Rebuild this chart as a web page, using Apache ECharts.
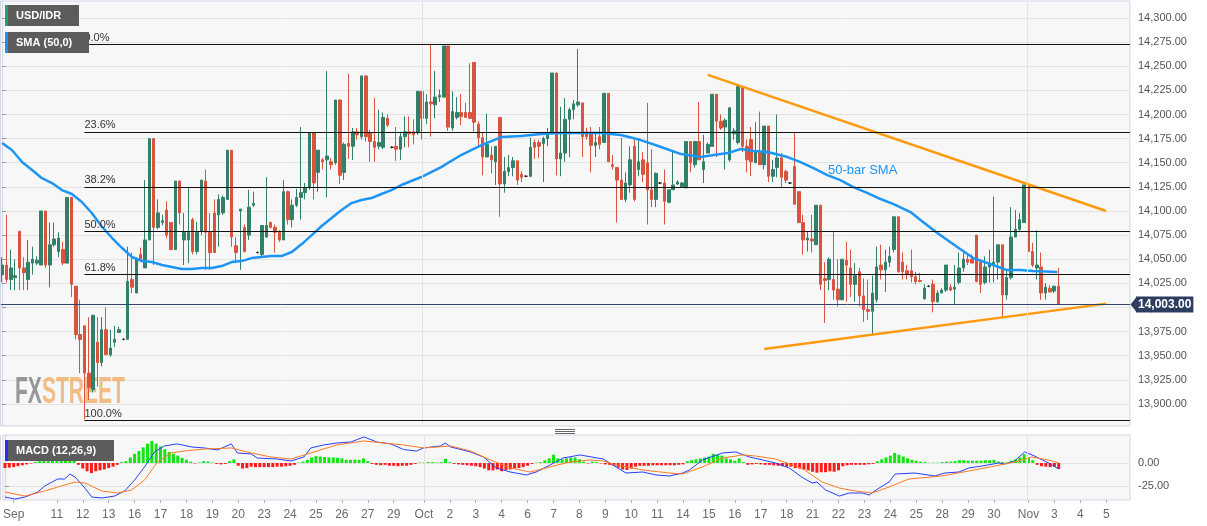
<!DOCTYPE html>
<html><head><meta charset="utf-8">
<script src="https://cdn.jsdelivr.net/npm/echarts@6/dist/echarts.min.js"></script>
<style>html,body{margin:0;padding:0;background:#fff;}#c{width:1207px;height:526px;}</style>
</head><body><div id="c"></div>
<script>
// ---- data (4H USD/IDR candles) ----
const openP = [14034,14044,14029,14031,14079,14041,14029,14046,14046,14044,
14100,14044,14065,14058,14060,14046,14114,14022,13972,13981,
13932,13915,13964,13943,13977,13951,13964,13974,13967,13967,
14029,14015,14055,14041,14070,14175,14083,14088,14101,14088,
14060,14131,14070,14070,14091,14058,14079,14131,14078,14098,
14096,14098,14112,14163,14064,14100,14083,14075,14106,14057,
14055,14073,14088,14083,14078,14070,14120,14091,14106,14114,
14119,14124,14181,14140,14153,14153,14151,14150,14215,14140,
14170,14167,14182,14177,14240,14181,14172,14167,14166,14196,
14166,14167,14164,14177,14182,14182,14181,14224,14196,14213,
14210,14218,14218,14271,14186,14197,14202,14202,14202,14254,
14190,14176,14156,14158,14151,14197,14128,14141,14145,14152,
14138,14136,14136,14171,14171,14170,14175,14181,14243,14154,
14160,14195,14205,14210,14212,14182,14181,14168,14177,14171,
14222,14148,14145,14132,14112,14127,14167,14143,14153,14150,
14122,14112,14129,14129,14109,14122,14128,14125,14124,14172,
14148,14172,14143,14160,14167,14221,14193,14187,14153,14180,
14171,14229,14167,14174,14150,14161,14148,14188,14136,14145,
14155,14141,14129,14146,14120,14088,14070,14071,14065,14106,
14030,14029,14029,14019,14008,14049,14041,14024,14037,14012,
13998,13996,14008,14044,14039,14047,14060,14094,14047,14038,
14038,14032,14028,14009,14022,14024,14006,14015,14018,14021,
14019,14026,14041,14050,14050,14075,14047,14026,14042,14044,
14047,14065,14013,14031,14073,14081,14088,14127,14058,14041,
14042,14015,14020,14017,14022];
const closeP = [14044,14029,14041,14033,14041,14036,14047,14050,14049,14100,
14044,14065,14071,14072,14046,14114,14024,13972,13967,13932,
13917,13992,13943,13977,13951,13958,13967,13977,13967,14027,
14021,14050,14050,14070,14175,14083,14098,14090,14075,14060,
14131,14098,14078,14078,14058,14078,14132,14078,14057,14057,
14112,14114,14163,14073,14057,14102,14058,14104,14108,14057,
14085,14085,14083,14078,14070,14120,14091,14106,14114,14119,
14124,14181,14129,14163,14151,14157,14148,14215,14137,14169,
14167,14182,14179,14240,14177,14172,14166,14171,14197,14189,
14166,14164,14177,14182,14180,14179,14224,14196,14213,14211,
14218,14220,14271,14187,14203,14202,14198,14197,14196,14192,
14176,14156,14169,14153,14167,14128,14141,14145,14152,14132,
14135,14136,14166,14166,14167,14175,14179,14243,14154,14160,
14195,14205,14211,14213,14177,14177,14168,14171,14169,14222,
14151,14146,14132,14112,14129,14153,14112,14151,14138,14122,
14112,14139,14129,14110,14122,14127,14130,14129,14172,14150,
14172,14153,14151,14169,14221,14193,14186,14194,14207,14183,
14229,14167,14153,14151,14161,14148,14188,14136,14143,14155,
14135,14132,14129,14107,14088,14070,14072,14069,14106,14024,
14028,14050,14018,14008,14050,14044,14024,14033,14012,13998,
13996,14015,14042,14039,14047,14053,14094,14037,14037,14034,
14032,14027,14027,14020,14022,14006,14015,14018,14044,14018,
14021,14041,14050,14047,14046,14027,14024,14042,14046,14047,
14065,14013,14031,14073,14081,14091,14127,14058,14044,14044,
14015,14021,14016,14022,14003];
const lowP = [14026,14026,14018,14018,14018,14018,14018,14034,14044,14044,
14041,14021,14063,14052,14044,14046,14011,13967,13932,13884,
13904,13912,13918,13939,13951,13949,13959,13974,13966,13967,
14015,14015,14047,14041,14070,14044,14081,14085,14072,14060,
14060,14086,14044,14046,14055,14055,14075,14039,14039,14057,
14063,14096,14112,14063,14046,14039,14057,14070,14104,14056,
14052,14072,14082,14057,14068,14070,14086,14083,14104,14091,
14112,14122,14112,14120,14143,14114,14143,14148,14128,14132,
14154,14153,14174,14174,14172,14151,14151,14164,14164,14187,
14165,14152,14153,14166,14166,14169,14179,14174,14190,14177,
14196,14213,14218,14183,14183,14195,14189,14197,14196,14182,
14167,14137,14156,14139,14127,14094,14119,14136,14136,14127,
14130,14135,14135,14154,14155,14130,14167,14181,14137,14136,
14151,14156,14195,14208,14156,14174,14140,14156,14164,14171,
14151,14143,14088,14112,14109,14119,14110,14136,14130,14086,
14104,14104,14128,14086,14108,14122,14127,14124,14124,14140,
14145,14153,14129,14160,14167,14156,14184,14143,14151,14174,
14169,14161,14140,14136,14150,14148,14143,14130,14130,14135,
14124,14129,14128,14107,14088,14055,14058,14057,14065,14018,
13984,14018,14008,14001,14008,14006,14011,14006,14001,13985,
13987,13972,14005,14029,14016,14042,14057,14036,14029,14029,
14026,14024,14026,14008,14021,13995,14005,14015,14016,14017,
14003,14024,14037,14044,14046,14026,14015,14024,14026,14026,
14029,13990,14008,14029,14073,14079,14088,14058,14042,14029,
14008,14008,14016,14015,14003];
const highP = [14052,14096,14060,14050,14079,14052,14070,14063,14053,14100,
14100,14088,14088,14078,14068,14114,14114,14022,14008,13981,
13990,13992,13990,13990,14000,13977,13981,13980,13968,14063,
14057,14052,14062,14132,14175,14175,14112,14096,14110,14088,
14131,14131,14098,14125,14093,14089,14132,14143,14098,14112,
14117,14116,14163,14163,14073,14102,14086,14122,14120,14058,
14085,14135,14089,14086,14080,14132,14121,14112,14123,14187,
14129,14181,14181,14163,14155,14245,14155,14215,14215,14171,
14242,14186,14186,14240,14240,14184,14217,14205,14202,14200,
14167,14187,14182,14198,14198,14195,14224,14224,14221,14272,
14245,14226,14271,14271,14224,14218,14221,14212,14253,14254,
14193,14181,14201,14167,14167,14197,14156,14158,14156,14152,
14141,14137,14176,14174,14174,14177,14186,14243,14243,14208,
14217,14207,14215,14268,14212,14186,14187,14182,14187,14222,
14222,14158,14145,14176,14140,14167,14174,14174,14161,14212,
14164,14140,14130,14143,14122,14163,14132,14130,14172,14172,
14172,14213,14179,14171,14221,14221,14200,14196,14207,14186,
14229,14229,14174,14187,14192,14203,14188,14188,14153,14200,
14160,14143,14130,14181,14120,14096,14079,14096,14106,14106,
14047,14052,14079,14050,14050,14068,14060,14046,14041,14030,
14029,14033,14063,14065,14060,14063,14094,14094,14057,14044,
14060,14037,14036,14024,14023,14029,14018,14020,14044,14024,
14044,14057,14057,14055,14055,14075,14050,14053,14060,14115,
14065,14065,14039,14104,14101,14098,14127,14127,14067,14080,
14057,14025,14023,14023,14041];

const macdHist = [-5.5,-5,-4.5,-3.5,-2.5,-1.5,-0.5,1,2,3,
5,6.5,7,7,7,7.5,6.5,-2,-6,-9,
-11,-9,-8,-7,-5.5,-4,-2,1,2,6,
10,13,17,21,24,21,18,15,12,10,
8,5.5,3.5,1.5,-0.5,0.5,2,1.5,0.5,-1,
-1.5,-1,2,4,-3,-6,-5.5,-4,-4.5,-4.5,
-4.5,-4.5,-4.5,-4,-4,-3.5,-3,-2,0.5,1.5,
3.5,6,7.5,7,6.5,6,6,5.5,5,3.5,
3.5,3.5,3.5,5,2,-1,-2,-2.5,-2,-3,
-3,-3.5,-3,-3,-2,-1,0.5,0.5,1,1,
0.5,1,4.5,1,-1,-1.5,-2,-2.5,-3,-3.5,
-4.5,-6,-8,-8,-7,-9,-7.5,-7,-6,-5.5,
-4.5,-3,-1,0.5,1,3,5,9,5,4,
5,6,6,4,1.5,-0.5,1.5,1,-0.5,-1.5,
-2,-3,-5,-7,-7.5,-6,-4,-3,-3,-3,
-2.5,-2.5,-2.5,-2.5,-2.5,-2.5,-2,-1.5,2,3,
4,5,6,7,10,9,8,5,4,2.5,
5,1,-2,-1.5,-1,-1.5,-2,-2,-2.5,-3,
-3.5,-4,-4,-5.5,-6,-7,-8,-9.5,-10.5,-10,
-10,-9,-9.5,-8,-3.5,-2.5,-2,-2,-2,-2,
-1.5,-1,2,4,6,8,11,9,7,5,
3.5,2.5,1.5,1,0.3,0.3,0.3,1,1.5,1.5,
2,3,3,2.5,2.5,2.5,2.5,3,3,3.5,
1.5,1,0.5,2.5,4,6,9.5,5.5,3,-2,
-3.5,-4,-4.5,-4,-6.5];

const macdBar = [0,2.3,4.6,7.6,9.2,12.2,13.8,15,16.2,18.5,20.1,22.4,25.4,27.7,30,32.3,34.6,36.9,39.9,43.2,46.2,49.2,52.4,53.8,57,58.4,63,66.2,69.2,70.8,73.8,76.8,80.1,83.1,86.1,89.3,92.3,95.3,96.9,100.8,102,103.2,107.8,110.8,113.8,117,120.7,123,126.2,129.2,133.2,138.5,141.5,143.8,147.7,150.7,153.9,156.9,158.5,161.5,166.2,169.2,172.4,175.4,178.4,181.6,184.6,186.9,188,190,193.2,195.5,198.5,200.1,202.4,204.7,206.1,210.7,215.3,217.6,220.9,223.2,226.2,230.1,231.5,233.8,236.1,238.4,241.6,244];
const macdLine = [-37,-39.1,-37,-31.5,-25,-17.4,-17.4,-12,-15.2,-27.2,-37,-38,-35.9,-30.4,-18.5,-4.3,12,18.5,20.7,17.4,16.3,14.1,20.7,10.9,9.8,5.4,4.3,2.2,6.5,16.3,19.6,21.7,22.8,28.3,22.8,20.7,14.6,13,16.3,18.5,21.7,17.4,12,6.5,-5.4,-9.8,-13,-9.8,-2.2,5.4,8.7,4.3,-4.3,-10.9,-9.8,-13,-14.1,-10.9,-7.6,3.3,10.9,12,6.5,3.3,0,-5.4,-15.7,-21.7,-20.7,-29.3,-35.9,-32.6,-32.6,-34.8,-27.2,-20.7,-12,-10.9,-14.1,-10.9,-9.8,-5.4,-3.3,0,-1.1,2.2,12,7.6,0,-6.5];
const signalBar = [0,4.6,9.2,12.2,16.2,18.5,22.4,26.1,29.3,32.3,35.3,38.5,41.5,46.2,52.4,57,61.6,66.2,70.8,76.8,83.1,87.7,92.3,96.9,103.2,107.8,112.4,117,121.6,126.2,130.8,135.5,138.5,141.5,147.7,153.9,156.9,161.5,166.2,170.8,173.8,178.4,184.6,189.2,193.2,196.9,200.8,204.7,209.3,216.9,223.2,229.2,233.8,237.7,241.6,244];
const signalLine = [-31.5,-35.9,-30.4,-26.1,-20.7,-21.7,-30.4,-32.6,-29.3,-18.5,1.1,10.9,13,15.2,16.3,10.9,6.5,4.3,10.9,19.6,23.9,21.7,19.6,16.3,18.5,13,3.3,-5.4,-9.8,-4.3,1.1,3.3,2.2,-2.2,-7.6,-10.9,-12,-4.3,5.4,8.7,7.6,4.3,-6,-20.7,-27.2,-30.4,-32.6,-26.1,-17.4,-14.1,-8.7,-3.3,1.1,6.5,3.3,0];

const smaBar = [0,2.3,4.6,6.9,9.2,11.5,13.8,16.1,18.4,20.7,23.1,25.4,27.7,30,32.3,34.6,36.9,39.2,41.5,43.8,46.1,48.4,50.7,53,55.3,57.6,59.9,62.2,64.5,66.9,69.2,71.5,73.8,76.1,78.4,80.7,83,85.3,87.6,89.9,92.2,96.8,101.4,106,110.7,115.3,119.9,124.5,129.1,133.7,138.3,142.9,147.5,152.2,156.8,161.4,164.4,167.6,170.6,173.6,176.8,181.4,184.4,187.4,190.6,193.6,196.6,199.9,202.9,205.9,209.8,212.1,216,220.6,224.3,228.9,232.1,235.1,238.1,243.7];
const smaValue = [14170.4,14163,14150.7,14142.4,14134,14129,14121.7,14117.6,14109.3,14097.9,14083.4,14072,14061.6,14052.3,14048.1,14047.1,14044,14041.9,14039.8,14039.8,14040.9,14040.9,14042.9,14047.1,14048.1,14051.2,14052.3,14053.3,14053.3,14057.5,14065.7,14075,14084.4,14092.7,14101,14108.2,14111.4,14113.4,14117.6,14121.7,14126.9,14135.2,14145.5,14158,14168.3,14176.6,14177.7,14179.7,14180.8,14180.8,14180.8,14178.7,14173.5,14166.3,14159,14155.9,14158,14160,14164.2,14162.1,14161.1,14155.9,14150.7,14144.5,14137.2,14132,14124.8,14118.6,14112.4,14107.2,14098.9,14090.6,14077.1,14062.6,14051.2,14044,14038.8,14038.8,14037.8,14036.7];

const tickLabels = ['Sep','11','12','13','16','17','18','19','20','23','24','25','26','27','29','Oct','2','3','4','6','7','8','9','10','11','14','15','16','17','18','21','22','23','24','25','28','29','30','Nov','3','4','5'];
const tickBars = [2,12,18,24,30,36,42,48,54,60,66,72,78,84,90,97,103,109,115,121,127,133,139,145,151,157,163,169,175,181,187,193,199,205,211,217,223,229,237,243,249,255];
const monthBars = [97, 236.8];
const priceTicks = [13900,13925,13950,13975,14000,14025,14050,14075,14100,14125,14150,14175,14200,14225,14250,14275,14300];
const macdTicks = [-25, 0];
const fibLabels = ['0.0%','23.6%','38.2%','50.0%','61.8%','100.0%'];
const fibPrices = [14273,14182,14125,14079,14034,13883];
const fibStartBar = 19;
const upperTrend = [[163,14241],[255,14100]];
const lowerTrend = [[176,13957],[255,14004]];
const lastPrice = 14003;
const totalBars = 261;

// ---- layout ----
const PLOT_RIGHT = 1130;
const W = PLOT_RIGHT / (totalBars - 0.5);
const GL = -W / 2;
const GW = totalBars * W;
const MAIN_TOP = 1, MAIN_H = 425;
const MACD_TOP = 435, MACD_H = 65;
const UP = '#33806a', DOWN = '#d9543f';
const FONT = 'Liberation Sans, Arial, sans-serif';

function fmt2(v){
  const neg = v < 0; const s = Math.abs(v).toFixed(2);
  let [i, d] = s.split('.');
  i = i.replace(/\B(?=(\d{3})+(?!\d))/g, ',');
  return (neg ? '-' : '') + i + '.' + d;
}

const cats = []; for (let i = 0; i < totalBars; i++) cats.push(String(i));
const tickMap = {}; tickBars.forEach((b, k) => tickMap[b] = tickLabels[k]);
const candleData = openP.map((o, i) => [o, closeP[i], lowP[i], highP[i]]);
const zip = (a, b) => a.map((x, i) => [x, b[i]]);

const chart = echarts.init(document.getElementById('c'), null, {renderer: 'canvas'});
const option = {
  animation: false,
  backgroundColor: '#ffffff',
  textStyle: {fontFamily: FONT},
  grid: [
    {left: GL, top: MAIN_TOP, width: GW, height: MAIN_H, show: true, backgroundColor: '#f7f7f7', borderColor: '#d3d7e6', borderWidth: 1},
    {left: GL, top: MACD_TOP, width: GW, height: MACD_H, show: true, backgroundColor: '#f7f7f7', borderColor: '#d3d7e6', borderWidth: 1}
  ],
  xAxis: [
    {type: 'category', gridIndex: 0, data: cats, axisLine: {show: false, onZero: false}, axisTick: {show: false}, axisLabel: {show: false}, splitLine: {show: false}},
    {type: 'category', gridIndex: 1, data: cats, position: 'bottom', axisLine: {show: false, onZero: false},
      axisTick: {show: true, alignWithLabel: true, interval: (i) => tickMap[i] !== undefined, length: 3, lineStyle: {color: '#aab0c4'}},
      axisLabel: {show: true, interval: (i) => tickMap[i] !== undefined, formatter: (v, i) => tickMap[i] || '', color: '#6b6b6b', fontSize: 12, margin: 9, fontFamily: FONT},
      splitLine: {show: false}},
    {type: 'value', gridIndex: 0, min: -0.5, max: totalBars - 0.5, show: false},
    {type: 'value', gridIndex: 1, min: -0.5, max: totalBars - 0.5, show: false}
  ],
  yAxis: [
    {type: 'value', gridIndex: 0, position: 'right', min: 13877.2, max: 14317.6,
      axisLine: {show: true, lineStyle: {color: '#d3d7e6'}},
      axisTick: {show: true, customValues: priceTicks, length: 4, lineStyle: {color: '#999'}},
      axisLabel: {customValues: priceTicks, formatter: fmt2, color: '#555', fontSize: 11, margin: 8, fontFamily: FONT},
      splitLine: {show: true, lineStyle: {color: '#e3e3e3', width: 1}}},
    {type: 'value', gridIndex: 1, position: 'right', min: -40.2, max: 30.4,
      axisLine: {show: true, lineStyle: {color: '#d3d7e6'}},
      axisTick: {show: true, customValues: macdTicks, length: 4, lineStyle: {color: '#999'}},
      axisLabel: {customValues: macdTicks, formatter: fmt2, color: '#555', fontSize: 11, margin: 8, fontFamily: FONT},
      splitLine: {show: true, lineStyle: {color: '#e3e3e3', width: 1}}}
  ],
  series: [
    {type: 'line', xAxisIndex: 2, yAxisIndex: 0, data: [], silent: true, symbol: 'none', z: 1,
      markLine: {silent: true, symbol: 'none', animation: false, lineStyle: {color: '#e3e3e3', width: 1, type: 'solid'}, label: {show: false},
        data: monthBars.map(b => ({xAxis: b}))}},
    {type: 'line', xAxisIndex: 3, yAxisIndex: 1, data: [], silent: true, symbol: 'none', z: 1,
      markLine: {silent: true, symbol: 'none', animation: false, lineStyle: {color: '#e3e3e3', width: 1, type: 'solid'}, label: {show: false},
        data: monthBars.map(b => ({xAxis: b}))}},
    {type: 'candlestick', xAxisIndex: 0, yAxisIndex: 0, data: candleData, barWidth: 3,
      itemStyle: {color: UP, color0: DOWN, borderColor: UP, borderColor0: DOWN, borderColorDoji: '#222', borderWidth: 1},
      markLine: {silent: true, symbol: 'none', animation: false,
        lineStyle: {color: '#34456b', width: 1, type: 'solid'},
        label: {show: true, position: 'end', distance: 6, formatter: () => fmt2(lastPrice), color: '#fff', fontWeight: 'bold', fontSize: 12, fontFamily: FONT,
          backgroundColor: '#2c3d60', padding: [1, 2, 1, 2], lineHeight: 14},
        data: [{yAxis: lastPrice}]}},
    {type: 'line', xAxisIndex: 2, yAxisIndex: 0, data: [[fibStartBar, fibPrices[0]]], symbol: 'none', lineStyle: {width: 0}, z: 3,
      markLine: {silent: true, symbol: 'none', animation: false,
        lineStyle: {color: '#111', width: 1.2, type: 'solid'},
        label: {show: true, position: 'insideStartTop', distance: [0, 1], formatter: '{b}', color: '#333', fontSize: 11, fontFamily: FONT},
        data: fibPrices.map((p, k) => [{name: fibLabels[k], coord: [fibStartBar, p]}, {coord: [totalBars - 0.5, p]}])}},
    {type: 'line', xAxisIndex: 2, yAxisIndex: 0, data: zip(smaBar, smaValue), symbol: 'none', lineStyle: {color: '#1d95f7', width: 2.5}, z: 4},
    {type: 'line', xAxisIndex: 2, yAxisIndex: 0, data: upperTrend, symbol: 'none', lineStyle: {color: '#ff9a0e', width: 2.5}, z: 4},
    {type: 'line', xAxisIndex: 2, yAxisIndex: 0, data: lowerTrend, symbol: 'none', lineStyle: {color: '#ff9a0e', width: 2.5}, z: 4},
    {type: 'bar', xAxisIndex: 1, yAxisIndex: 1, data: macdHist, barWidth: 3,
      itemStyle: {color: (p) => p.value >= 0 ? '#12e512' : '#ff1a1a'}},
    {type: 'line', xAxisIndex: 3, yAxisIndex: 1, data: zip(macdBar, macdLine), symbol: 'none', lineStyle: {color: '#2540ff', width: 1}, z: 4},
    {type: 'line', xAxisIndex: 3, yAxisIndex: 1, data: zip(signalBar, signalLine), symbol: 'none', lineStyle: {color: '#ff7a22', width: 1}, z: 4}
  ]
};
chart.setOption(option);

function legendBox(x, y, w, accent, text) {
  return {type: 'group', x: x, y: y, z: 100, children: [
    {type: 'rect', shape: {x: 0, y: 0, width: w, height: 21}, style: {fill: '#5c5c5c'}, z: 100},
    {type: 'rect', shape: {x: 0, y: 0, width: 3, height: 21}, style: {fill: accent}, z: 101},
    {type: 'text', x: 11, y: 10.5, z: 101, style: {text: text, fill: '#fff', font: 'bold 11px ' + FONT, verticalAlign: 'middle'}}
  ]};
}
const yLast = chart.convertToPixel({yAxisIndex: 0}, lastPrice);
chart.setOption({graphic: [
  {type: 'line', shape: {x1: 0.5, y1: 1, x2: 0.5, y2: 426}, style: {stroke: '#d3d7e6', lineWidth: 1}, z: 50},
  {type: 'line', shape: {x1: 0.5, y1: 435, x2: 0.5, y2: 500}, style: {stroke: '#d3d7e6', lineWidth: 1}, z: 50},
  {type: 'text', x: 15, y: 393, scaleX: 0.585, z: 1, style: {
    text: '{a|FX}{b|STREET}', verticalAlign: 'middle',
    rich: {a: {fill: 'rgba(120,120,120,0.75)', font: 'bold 36px ' + FONT}, b: {fill: 'rgba(240,170,95,0.75)', font: 'bold 36px ' + FONT}}}},
  {type: 'text', x: 828, y: 170, z: 20, style: {text: '50-bar SMA', fill: '#1d95f7', font: '13px ' + FONT, verticalAlign: 'middle'}},
  {type: 'line', shape: {x1: 555, y1: 429.5, x2: 575, y2: 429.5}, style: {stroke: '#666', lineWidth: 1}},
  {type: 'line', shape: {x1: 555, y1: 431.5, x2: 575, y2: 431.5}, style: {stroke: '#666', lineWidth: 1}},
  {type: 'line', shape: {x1: 555, y1: 433.5, x2: 575, y2: 433.5}, style: {stroke: '#666', lineWidth: 1}},
  {type: 'polygon', z: 100, shape: {points: [[1130.5, yLast], [1136.5, yLast - 7.5], [1136.5, yLast + 7.5]]}, style: {fill: '#2c3d60'}},
  legendBox(5, 5, 74, '#2e9a72', 'USD/IDR'),
  legendBox(5, 32, 84, '#1d8ff5', 'SMA (50,0)'),
  legendBox(5, 440, 109, '#1c30ff', 'MACD (12,26,9)')
]});
</script>
</body></html>
